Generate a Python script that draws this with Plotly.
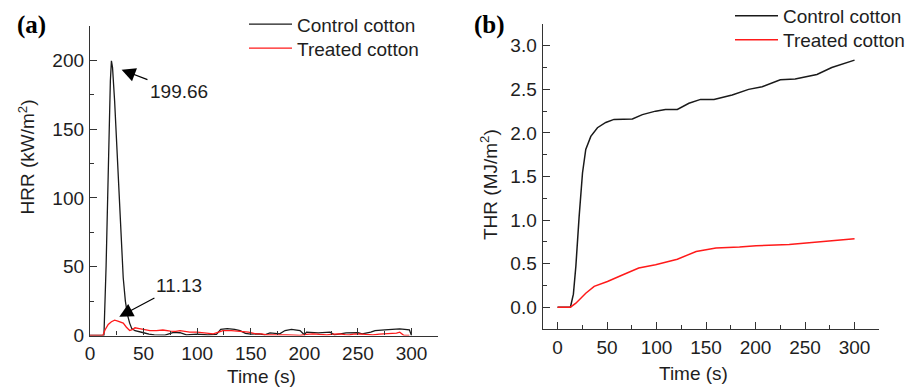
import plotly.graph_objects as go

# ---- data: HRR (panel a) ----
hrr_control_t = [0, 5, 10, 13, 15, 17, 19, 20, 21, 23, 25, 27, 29, 31, 33, 35, 37, 39, 42, 46,
                 50, 55, 60, 70, 78, 84, 90, 100, 110, 118, 122, 128, 135, 140, 145, 150, 158,
                 163, 168, 177, 182, 188, 196, 200, 202, 213, 224, 228, 233, 239, 250, 254, 262,
                 266, 275, 289, 298, 300]
hrr_control_v = [0, 0, 0, 0, 50, 120, 185, 199.66, 195, 170, 135, 100, 68, 42, 25, 15, 9, 5, 3.5, 2.5,
                 2, 1, 0.5, 0.3, 2.2, 2.0, 0.5, 1.0, 0.5, 0.8, 4.5, 5.0, 4.5, 3.5, 1.5, 1.0, 1.2,
                 0.5, 1.9, 1.2, 3.6, 4.4, 3.6, 0.5, 2.4, 1.9, 2.4, 0.5, 1.2, 1.9, 2.0, 1.2, 2.4,
                 3.6, 4.1, 4.8, 4.1, 0]

hrr_treated_t = [0, 12, 14, 17, 20, 23, 26, 29, 31, 34, 37, 40, 42, 46, 50, 56, 62, 68, 75, 80,
                 84, 88, 93, 100, 108, 115, 120, 124, 132, 140, 148, 155, 160, 165, 171, 177, 183,
                 190, 196, 202, 208, 214, 221, 227, 233, 238, 242, 246, 251, 257, 264, 270, 276,
                 282, 286, 289, 293, 298]
hrr_treated_v = [0, 0, 4, 8, 10, 11.13, 10.5, 9.5, 9, 6, 3.6, 4.5, 5.6, 5, 4.5, 3.6, 3.6, 4, 3.2, 3,
                 3.6, 3, 2.4, 2.5, 1.8, 1.2, 2.5, 3.6, 3.5, 3, 2.5, 1.2, 1.2, 0.5, 0.5, 1, 0.5,
                 0.3, 0, 0.8, 1.2, 0.8, 0.5, 1, 1.2, 0.6, 0.5, 1, 1.2, 0.8, 0.5, 1, 1.2,
                 1.3, 1.7, 2.4, 0, 0]

# ---- data: THR (panel b) ----
thr_control_t = [0, 13, 16, 18.5, 21.8, 25.2, 28.5, 33.6, 40.3, 48.7, 57, 65, 75.6, 85.7, 99, 109,
                 121, 132.7, 144.5, 158, 176.4, 193, 206.7, 225, 240, 262, 277, 300]
thr_control_v = [0, 0, 0.15, 0.47, 1.04, 1.54, 1.81, 1.96, 2.06, 2.12, 2.155, 2.16, 2.16, 2.21, 2.25, 2.27,
                 2.27, 2.34, 2.385, 2.385, 2.435, 2.5, 2.53, 2.61, 2.62, 2.67, 2.75, 2.835]

thr_treated_t = [0, 13, 18.5, 28.5, 37, 50.4, 65.5, 82, 99, 121, 140, 160, 183.8, 200.6, 234, 251,
                 268, 285, 300]
thr_treated_v = [0, 0, 0.046, 0.16, 0.24, 0.295, 0.37, 0.45, 0.487, 0.55, 0.64, 0.68, 0.69, 0.705,
                 0.72, 0.735, 0.755, 0.77, 0.785]

series_names = ["Control cotton", "Treated cotton"]
series_colors = ["#1a1a1a", "#ff1a1a"]

hrr_peak_labels = ["199.66", "11.13"]

x_ticks = [0, 50, 100, 150, 200, 250, 300]
hrr_ticks = [0, 50, 100, 150, 200]
thr_ticks = [0.0, 0.5, 1.0, 1.5, 2.0, 2.5, 3.0]

FONT = "Liberation Sans, Arial, sans-serif"
FS = 19
W, H = 905, 389
TXT = "#1e1e1e"


def px2x(p):
    return p / W


def px2y(p):
    return 1 - p / H


fig = go.Figure()

trace_specs = [
    (hrr_control_t, hrr_control_v, 0, "x", "y", "legend", 1.3),
    (hrr_treated_t, hrr_treated_v, 1, "x", "y", "legend2", 1.3),
    (thr_control_t, thr_control_v, 0, "x2", "y2", "legend3", 1.5),
    (thr_treated_t, thr_treated_v, 1, "x2", "y2", "legend4", 1.5),
]
for t, v, i, xa, ya, lg, lw in trace_specs:
    fig.add_trace(go.Scatter(x=t, y=v, mode="lines", name=series_names[i],
                             line=dict(color=series_colors[i], width=lw),
                             xaxis=xa, yaxis=ya, legend=lg))

axis_common = dict(
    showline=True, linecolor="#333", linewidth=1.3, mirror=False,
    showgrid=False, zeroline=False, automargin=False,
    ticks="inside", ticklen=7, tickwidth=1.3, tickcolor="#333",
    tickfont=dict(family=FONT, size=FS, color=TXT),
    fixedrange=True,
)
minor_common = dict(ticks="inside", ticklen=4, tickwidth=1.3, tickcolor="#333")


def legend_at(xpx, ypx):
    return dict(x=px2x(xpx), y=px2y(ypx), xanchor="left", yanchor="middle",
                bgcolor="rgba(0,0,0,0)", borderwidth=0, itemwidth=43,
                font=dict(family=FONT, size=FS, color=TXT))


fig.update_layout(
    width=W, height=H,
    margin=dict(l=0, r=0, t=0, b=0, autoexpand=False),
    paper_bgcolor="white", plot_bgcolor="white",
    font=dict(family=FONT, size=FS, color=TXT),
    xaxis=dict(axis_common, domain=[px2x(90), px2x(438.3)], range=[0, 325],
               tickvals=x_ticks, anchor="y", ticklabelstandoff=1,
               minor=dict(minor_common, dtick=25, tick0=0)),
    yaxis=dict(axis_common, domain=[px2y(335.5), px2y(26)], range=[0, 225],
               tickvals=hrr_ticks, anchor="x", ticklabelstandoff=1,
               minor=dict(minor_common, dtick=25, tick0=0)),
    xaxis2=dict(axis_common, domain=[px2x(542.7), px2x(879.3)], range=[-15, 325],
                tickvals=x_ticks, anchor="y2", ticklabelstandoff=1,
                minor=dict(minor_common, dtick=25, tick0=0)),
    yaxis2=dict(axis_common, domain=[px2y(329), px2y(24)], range=[-0.25, 3.25],
                tickvals=thr_ticks, tickformat=".1f", anchor="x2", ticklabelstandoff=1,
                minor=dict(minor_common, dtick=0.25, tick0=0)),
    legend=legend_at(244, 24.3),
    legend2=legend_at(244, 48.3),
    legend3=legend_at(730, 16),
    legend4=legend_at(730, 40),
    showlegend=True,
)

annotations = []
# axis titles
annotations.append(dict(text="HRR (kW/m<sup>2</sup>)", x=px2x(26), y=px2y(157.5), xref="paper", yref="paper",
                        textangle=-90, showarrow=False, xanchor="center", yanchor="middle",
                        font=dict(family=FONT, size=FS, color=TXT)))
annotations.append(dict(text="Time (s)", x=px2x(261), y=px2y(376.5), xref="paper", yref="paper",
                        showarrow=False, xanchor="center", yanchor="middle",
                        font=dict(family=FONT, size=FS, color=TXT)))
annotations.append(dict(text="THR (MJ/m<sup>2</sup>)", x=px2x(489), y=px2y(185), xref="paper", yref="paper",
                        textangle=-90, showarrow=False, xanchor="center", yanchor="middle",
                        font=dict(family=FONT, size=FS, color=TXT)))
annotations.append(dict(text="Time (s)", x=px2x(693), y=px2y(373.5), xref="paper", yref="paper",
                        showarrow=False, xanchor="center", yanchor="middle",
                        font=dict(family=FONT, size=FS, color=TXT)))
# panel labels
annotations.append(dict(text="<b>(a)</b>", x=px2x(15), y=px2y(25), xref="paper", yref="paper",
                        showarrow=False, xanchor="left", yanchor="middle",
                        font=dict(family="Liberation Serif, Times New Roman, serif", size=25, color="black")))
annotations.append(dict(text="<b>(b)</b>", x=px2x(472), y=px2y(25), xref="paper", yref="paper",
                        showarrow=False, xanchor="left", yanchor="middle",
                        font=dict(family="Liberation Serif, Times New Roman, serif", size=25, color="black")))

# peak annotations: arrow points at the peak, label sits at the arrow's tail
arrow_heads = [(29.5, 193.2), (27.3, 13.7)]
label_pos = [(83, 177.2), (83, 36.7)]
for (hx, hy), (lx, ly), lab in zip(arrow_heads, label_pos, hrr_peak_labels):
    annotations.append(dict(text=lab, x=hx, y=hy, ax=lx, ay=ly, xref="x", yref="y", axref="x", ayref="y",
                            showarrow=True, arrowhead=2, arrowsize=2.3, arrowwidth=1.2, arrowcolor="black",
                            standoff=0, borderpad=2,
                            font=dict(family=FONT, size=FS, color=TXT)))

fig.update_layout(annotations=annotations)

fig.write_html("out.html", config={"displayModeBar": False})
